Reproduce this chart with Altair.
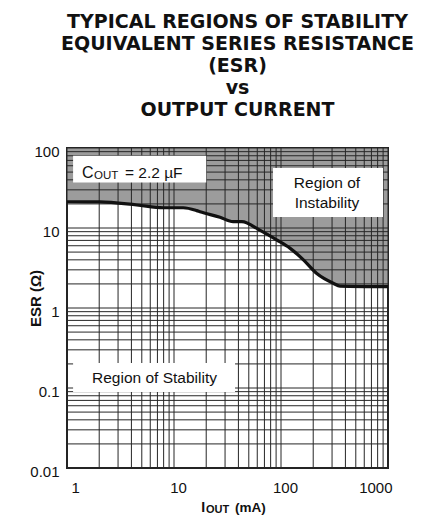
import altair as alt
import pandas as pd

# Boundary curve: output current (mA) vs ESR (ohm)
iout_ma = [1, 2.03, 4.48, 7.94, 12.2, 16.3, 17.5, 26.9, 35.7, 43.0, 63.3, 91, 121, 162, 216, 308, 356, 1000]
esr_ohm = [21.3, 21.2, 19.4, 17.9, 17.9, 16.5, 16.0, 13.6, 12.0, 12.0, 9.4, 7.1, 5.6, 4.0, 2.7, 2.04, 1.88, 1.85]

# Log grid positions
x_grid = [1, 2, 3, 4, 5, 6, 7, 8, 9,
          10, 20, 30, 40, 50, 60, 70, 80, 90,
          100, 200, 300, 400, 500, 600, 700, 800, 900, 1000]
y_grid = [0.01, 0.02, 0.03, 0.04, 0.05, 0.06, 0.07, 0.08, 0.09,
          0.1, 0.2, 0.3, 0.4, 0.5, 0.6, 0.7, 0.8, 0.9,
          1, 2, 3, 4, 5, 6, 7, 8, 9,
          10, 20, 30, 40, 50, 60, 70, 80, 90, 100]
x_ticks = [1, 10, 100, 1000]
y_ticks = [0.01, 0.1, 1, 10, 100]

# White label boxes (data coordinates)
box_x = [1.14, 84.2, 1.14]
box_x2 = [20.0, 898, 37.2]
box_y = [80, 56.2, 0.205]
box_y2 = [37.0, 13.7, 0.089]

# Annotation texts
ann_text = ["C", "OUT", "= 2.2 \u00b5F", "Region of", "Instability", "Region of Stability"]
ann_x = [1.77, 1.79, 3.48, 269, 269, 6.57]
ann_y = [42.2, 42.2, 42.2, 31.6, 17.8, 0.1155]
ann_size = [16, 11.5, 15.5, 15.5, 15.5, 15.5]
ann_align = ["right", "left", "left", "center", "center", "center"]
ann_dy = [0, 1.5, 0, 0, 0, 0]

# X axis title pieces
xt_text = ["I", "OUT", "(mA)"]
xt_x = [19.5, 19.5, 37.2]
xt_size = [14, 11, 13.5]
xt_align = ["right", "left", "left"]
xt_dx = [0, 1, 0]
xt_dy = [0, 1, 0]

W, H = 321, 320
FONT = "Liberation Sans"
TXT = "#111111"

xs = alt.Scale(type="log", domain=[1, 1000], nice=False)
ys = alt.Scale(type="log", domain=[0.01, 100], nice=False)

x_axis = alt.Axis(
    values=x_ticks, format="d", grid=False, ticks=False, domain=False,
    labelFont=FONT, labelFontSize=15, labelColor=TXT, labelPadding=12,
    labelOffset=4, title=None, zindex=1)
y_axis = alt.Axis(
    values=y_ticks, format="~g", grid=False, ticks=False, domain=False,
    labelFont=FONT, labelFontSize=15, labelColor=TXT, labelPadding=8,
    labelOffset=3,
    title="ESR (\u03a9)", titleFont=FONT, titleFontSize=15, titleFontWeight="bold",
    titleColor=TXT, titleX=-32, titleY=150, titleBaseline="middle",
    titleAlign="center", titleAngle=270, zindex=1)

def X(field):
    return alt.X(field, scale=xs, axis=x_axis)

def Y(field):
    return alt.Y(field, scale=ys, axis=y_axis)

curve_df = pd.DataFrame({"iout": iout_ma, "esr": esr_ohm})

area = alt.Chart(curve_df).mark_area(color="#9c9c9c", opacity=1).encode(
    x=X("iout:Q"), y=Y("esr:Q"), y2=alt.datum(100))

vgrid = alt.Chart(pd.DataFrame({"x": x_grid})).mark_rule(color="#262626", strokeWidth=1).encode(
    x=X("x:Q"))
hgrid = alt.Chart(pd.DataFrame({"y": y_grid})).mark_rule(color="#262626", strokeWidth=1).encode(
    y=Y("y:Q"))

box_df = pd.DataFrame({"x": box_x, "x2": box_x2, "y": box_y, "y2": box_y2})
boxes = alt.Chart(box_df).mark_rect(color="white", opacity=1).encode(
    x=X("x:Q"), x2="x2:Q", y=Y("y:Q"), y2="y2:Q")

layers = [area, vgrid, hgrid, boxes]

for t, x, y, s, a, d in zip(ann_text, ann_x, ann_y, ann_size, ann_align, ann_dy):
    df = pd.DataFrame({"t": [t], "x": [x], "y": [y]})
    layers.append(alt.Chart(df).mark_text(
        font=FONT, fontSize=s, align=a, baseline="alphabetic", dy=d, color=TXT).encode(
        x=X("x:Q"), y=Y("y:Q"), text="t:N"))

for t, x, s, a, dx, dy in zip(xt_text, xt_x, xt_size, xt_align, xt_dx, xt_dy):
    df = pd.DataFrame({"t": [t], "x": [x]})
    layers.append(alt.Chart(df).mark_text(
        font=FONT, fontSize=s, fontWeight="bold", align=a, baseline="alphabetic",
        dx=dx, dy=dy, color=TXT).encode(
        x=X("x:Q"), y=alt.value(H + 44), text="t:N"))

line = alt.Chart(curve_df).mark_line(color="#111111", strokeWidth=3.2, interpolate="monotone").encode(
    x=X("iout:Q"), y=Y("esr:Q"))
layers.append(line)

chart = alt.layer(*layers).properties(
    width=W, height=H,
    title=alt.TitleParams(
        text=["TYPICAL REGIONS OF STABILITY", "EQUIVALENT SERIES RESISTANCE", "(ESR)", "vs", "OUTPUT CURRENT"],
        font="DejaVu Sans", fontSize=19, fontWeight="bold", color=TXT, lineHeight=22,
        anchor="middle", baseline="bottom", offset=5, dx=10),
    padding={"left": 59, "top": 140, "right": 40, "bottom": 48},
    autosize=alt.AutoSizeParams(type="none"),
).configure_view(stroke="#222222", strokeWidth=2)

chart.save("out.html", embed_options={"renderer": "svg", "actions": False})
